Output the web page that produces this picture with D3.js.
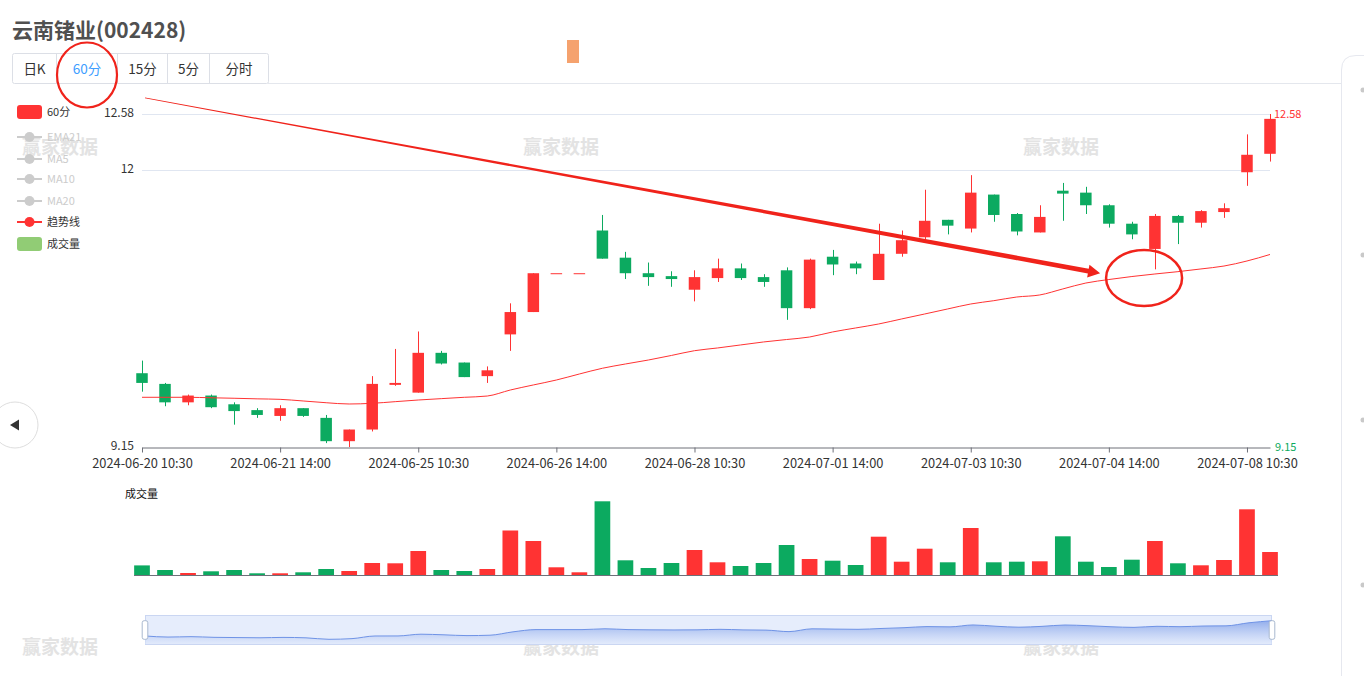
<!DOCTYPE html>
<html><head><meta charset="utf-8">
<script src="https://cdn.jsdelivr.net/npm/d3@7"></script>
<style>
html,body{margin:0;padding:0;background:#fff;overflow:hidden;}
svg{display:block;font-family:"Noto Sans CJK SC","Noto Sans",sans-serif;}
</style></head><body>
<svg id="c" width="1364" height="676"></svg>
<script>
// ---------- DATA ----------
const categories = [
 "2024-06-20 10:30","2024-06-20 11:30","2024-06-20 14:00","2024-06-20 15:00",
 "2024-06-21 10:30","2024-06-21 11:30","2024-06-21 14:00","2024-06-21 15:00",
 "2024-06-24 10:30","2024-06-24 11:30","2024-06-24 14:00","2024-06-24 15:00",
 "2024-06-25 10:30","2024-06-25 11:30","2024-06-25 14:00","2024-06-25 15:00",
 "2024-06-26 10:30","2024-06-26 11:30","2024-06-26 14:00","2024-06-26 15:00",
 "2024-06-27 10:30","2024-06-27 11:30","2024-06-27 14:00","2024-06-27 15:00",
 "2024-06-28 10:30","2024-06-28 11:30","2024-06-28 14:00","2024-06-28 15:00",
 "2024-07-01 10:30","2024-07-01 11:30","2024-07-01 14:00","2024-07-01 15:00",
 "2024-07-02 10:30","2024-07-02 11:30","2024-07-02 14:00","2024-07-02 15:00",
 "2024-07-03 10:30","2024-07-03 11:30","2024-07-03 14:00","2024-07-03 15:00",
 "2024-07-04 10:30","2024-07-04 11:30","2024-07-04 14:00","2024-07-04 15:00",
 "2024-07-05 10:30","2024-07-05 11:30","2024-07-05 14:00","2024-07-05 15:00",
 "2024-07-08 10:30","2024-07-08 11:30"
];
const openP  = [9.91,9.80,9.61,9.68,9.59,9.53,9.47,9.55,9.45,9.21,9.33,9.79,9.71,10.12,10.02,9.88,10.31,10.54,10.94,10.94,
                11.38,11.10,10.94,10.91,10.77,10.89,10.99,10.90,10.97,10.58,11.11,11.04,10.87,11.14,11.31,11.49,11.40,11.75,11.55,11.36,
                11.79,11.77,11.64,11.45,11.19,11.53,11.46,11.57,11.98,12.17];
const highP  = [10.04,9.81,9.69,9.69,9.61,9.55,9.58,9.55,9.48,9.33,9.88,10.16,10.34,10.14,10.02,9.98,10.63,10.94,10.94,10.94,
                11.54,11.16,11.05,10.96,10.97,11.09,11.04,10.93,11.00,11.09,11.18,11.06,11.45,11.38,11.80,11.49,11.95,11.75,11.56,11.64,
                11.87,11.83,11.65,11.47,11.55,11.54,11.59,11.66,12.37,12.58];
const lowP   = [9.72,9.57,9.58,9.55,9.38,9.45,9.42,9.46,9.19,9.15,9.31,9.78,9.71,10.00,9.87,9.81,10.14,10.54,10.94,10.94,
                11.09,10.88,10.81,10.80,10.65,10.85,10.87,10.80,10.46,10.57,10.92,10.93,10.87,11.11,11.29,11.34,11.36,11.47,11.33,11.36,
                11.48,11.55,11.41,11.29,10.98,11.24,11.41,11.51,11.84,12.09];
const closeP = [9.81,9.61,9.68,9.56,9.52,9.48,9.55,9.47,9.21,9.33,9.80,9.81,10.12,10.01,9.87,9.94,10.54,10.94,10.94,10.94,
                11.09,10.94,10.90,10.88,10.90,10.99,10.89,10.85,10.58,11.08,11.03,10.99,11.14,11.28,11.48,11.43,11.77,11.54,11.37,11.52,
                11.76,11.64,11.45,11.34,11.53,11.46,11.58,11.61,12.16,12.53];
const volume = [9600,5000,2000,3700,5000,1700,1700,2700,6000,4000,12000,11700,24000,5000,4000,6000,44500,34000,7700,2700,
                73700,14700,7000,12000,25000,12700,9000,12000,30000,16000,14300,10000,38300,13300,26300,12700,47000,12700,13300,13700,
                38700,13300,8000,15300,34000,11700,9700,15000,65700,23000];
const trendLine = [9.662,9.662,9.662,9.657,9.652,9.646,9.641,9.624,9.606,9.593,9.600,9.617,9.634,9.648,9.662,9.675,9.737,9.789,9.840,9.902,
                   9.961,10.005,10.046,10.093,10.142,10.170,10.201,10.232,10.257,10.283,10.335,10.376,10.417,10.469,10.520,10.572,10.623,10.657,10.695,10.716,
                   10.778,10.839,10.875,10.906,10.932,10.956,10.984,11.014,11.066,11.133];
const priceTicks = [9.15, 12, 12.58];
const xTickEvery = 6;
const tabs = ["日K","60分","15分","5分","分时"];
const legendItems = ["60分","EMA21","MA5","MA10","MA20","趋势线","成交量"];
const title = "云南锗业(002428)";
const watermark = "赢家数据";

// ---------- SETUP ----------
const RED = "#ff3333", GREEN = "#0caa60", ANNO = "#f0231b";
const svg = d3.select("#c");
const x = d3.scalePoint().domain(categories).range([142, 1270]);
const xi = d3.scaleLinear().domain([0, categories.length - 1]).range([142, 1270]);
const y = d3.scaleLinear().domain([d3.min(lowP), d3.max(highP)]).range([447, 114]);
const yv = d3.scaleLinear().domain([0, d3.max(volume)]).range([575, 501.3]);
const up = i => closeP[i] >= openP[i];

// watermarks
const wm = svg.append("g").attr("fill", "#e3e3e3").attr("font-size", 19).attr("font-weight", "bold").attr("text-anchor", "middle");
[[60,147],[561,147],[1061,147],[60,647],[561,647],[1061,647]].forEach(([a,b]) =>
  wm.append("text").attr("x", a).attr("y", b).attr("dy", "0.35em").text(watermark));

// title
svg.append("text").attr("x", 12).attr("y", 38).attr("font-size", 21).attr("font-weight", "bold")
  .attr("fill", "#505050").text(title);

// orange marker
svg.append("rect").attr("x", 567).attr("y", 40).attr("width", 12).attr("height", 23).attr("fill", "#f5a26e");

// tabs
const tabEdges = [12.5, 56.5, 117.5, 167.5, 209.5, 268.5];
svg.append("line").attr("x1", 268).attr("x2", 1341).attr("y1", 83.5).attr("y2", 83.5).attr("stroke", "#e4e7ed");
const tg = svg.append("g");
tg.append("rect").attr("x", 12.5).attr("y", 53.5).attr("width", 256).attr("height", 30)
  .attr("fill", "#fff").attr("stroke", "#dcdfe6").attr("rx", 2);
tabEdges.slice(1, -1).forEach(e => tg.append("line").attr("x1", e).attr("x2", e).attr("y1", 53.5).attr("y2", 83.5).attr("stroke", "#dcdfe6"));
tabs.forEach((t, i) => {
  tg.append("text").attr("x", (tabEdges[i] + tabEdges[i+1]) / 2).attr("y", 69).attr("dy", "0.35em")
    .attr("text-anchor", "middle").attr("font-size", 13.5).attr("fill", i === 1 ? "#409eff" : "#333").text(t);
});

// right panel edge
svg.append("path").attr("d", "M1341.5,676 V70 Q1341.5,55.5 1356,55.5 H1364").attr("fill", "none").attr("stroke", "#e6e8ef");
[90,255,420,585].forEach(v => svg.append("circle").attr("cx", 1363).attr("cy", v).attr("r", 2.5).attr("fill", "#c9c9c9"));

// left nav button
svg.append("circle").attr("cx", 15).attr("cy", 425).attr("r", 23).attr("fill", "#fff").attr("stroke", "#dedede");
svg.append("path").attr("d", "M10,425 L19,419.5 L19,430.5 Z").attr("fill", "#333");

// legend
const lg = svg.append("g").attr("font-size", 11);
const legendY = [112, 137, 159, 179, 201, 222, 244];
legendItems.forEach((name, i) => {
  const cy = legendY[i];
  const disabled = i >= 1 && i <= 4;
  const col = disabled ? "#cccccc" : (i === 6 ? "#91cc75" : RED);
  if (i === 0 || i === 6) {
    lg.append("rect").attr("x", 17).attr("y", cy - 7).attr("width", 25).attr("height", 14).attr("rx", 3).attr("fill", col);
  } else {
    lg.append("line").attr("x1", 17).attr("x2", 42).attr("y1", cy).attr("y2", cy).attr("stroke", col).attr("stroke-width", 2);
    lg.append("circle").attr("cx", 29.5).attr("cy", cy).attr("r", 5).attr("fill", col);
  }
  lg.append("text").attr("x", 47).attr("y", cy).attr("dy", "0.35em").attr("fill", disabled ? "#cccccc" : "#333").text(name);
});

// grid lines
const gg = svg.append("g");
priceTicks.filter(v => v !== y.domain()[0]).forEach(v =>
  gg.append("line").attr("x1", 142).attr("x2", 1270).attr("y1", Math.round(y(v)) + 0.5).attr("y2", Math.round(y(v)) + 0.5).attr("stroke", "#e0e6f1"));

// y labels left
priceTicks.forEach(v =>
  svg.append("text").attr("x", 134).attr("y", y(v) - 1).attr("dy", "0.32em").attr("text-anchor", "end")
    .attr("font-size", 12).attr("fill", "#333").text(v));
// max/min labels right
svg.append("text").attr("x", 1274).attr("y", y(d3.max(highP))).attr("dy", "0.35em").attr("font-size", 11).attr("fill", RED).text(d3.max(highP));
svg.append("text").attr("x", 1275).attr("y", y(d3.min(lowP))).attr("dy", "0.35em").attr("font-size", 11).attr("fill", GREEN).text(d3.min(lowP));

// x axis
const xTickCats = categories.filter((c, i) => i % xTickEvery === 0);
const xAxis = d3.axisBottom(x).tickValues(xTickCats).tickSize(5).tickSizeOuter(0);
const xa = svg.append("g").attr("transform", "translate(0,447.5)").call(xAxis);
xa.select(".domain").attr("stroke", "#6e7079");
xa.selectAll(".tick line").attr("stroke", "#6e7079");
xa.selectAll(".tick text").attr("font-size", 12.8).attr("fill", "#333").attr("font-family", "Noto Sans CJK SC, sans-serif").attr("dy", "0.95em");

// candles
const cg = svg.append("g");
categories.forEach((c, i) => {
  const col = up(i) ? RED : GREEN;
  const cx = Math.round(x(c)) + 0.5;
  cg.append("line").attr("x1", cx).attr("x2", cx).attr("y1", y(highP[i])).attr("y2", y(lowP[i])).attr("stroke", col).attr("stroke-width", 1);
  const top = y(Math.max(openP[i], closeP[i])), bot = y(Math.min(openP[i], closeP[i]));
  cg.append("rect").attr("x", x(c) - 5.75).attr("width", 11.5).attr("y", top).attr("height", Math.max(1, bot - top)).attr("fill", col);
});

// trend line
svg.append("path").datum(trendLine)
  .attr("d", d3.line().x((d, i) => x(categories[i])).y(d => y(d)).curve(d3.curveMonotoneX))
  .attr("fill", "none").attr("stroke", RED).attr("stroke-width", 1);

// volume
svg.append("text").attr("x", 125).attr("y", 494).attr("dy", "0.35em").attr("font-size", 11).attr("fill", "#111").text(legendItems[6]);
const vg = svg.append("g");
volume.forEach((v, i) => {
  vg.append("rect").attr("x", x(categories[i]) - 7.85).attr("width", 15.7).attr("y", yv(v)).attr("height", yv(0) - yv(v))
    .attr("fill", up(i) ? RED : GREEN);
});
svg.append("line").attr("x1", 134).attr("x2", 1278).attr("y1", 575.5).attr("y2", 575.5).attr("stroke", "#6e7079");

// data zoom slider
const dz = svg.append("g");
const xs = d3.scaleLinear().domain([0, categories.length - 1]).range([145, 1272]);
const ys = d3.scaleLinear().domain(d3.extent(closeP)).range([639.3, 620.7]);
const defs = svg.append("defs");
const grad = defs.append("linearGradient").attr("id", "dzg").attr("x1", 0).attr("y1", 0).attr("x2", 0).attr("y2", 1);
grad.append("stop").attr("offset", "0%").attr("stop-color", "#7e9ee8").attr("stop-opacity", 0.8);
grad.append("stop").attr("offset", "100%").attr("stop-color", "#dfe8fb").attr("stop-opacity", 0.6);
dz.append("rect").attr("x", 145.5).attr("y", 615.5).attr("width", 1126).attr("height", 29).attr("fill", "#e6edfc").attr("stroke", "#cad6f2");
dz.append("path").datum(closeP)
  .attr("d", d3.area().x((d, i) => xs(i)).y0(644).y1(d => ys(d)).curve(d3.curveMonotoneX))
  .attr("fill", "url(#dzg)");
dz.append("path").datum(closeP)
  .attr("d", d3.line().x((d, i) => xs(i)).y(d => ys(d)).curve(d3.curveMonotoneX))
  .attr("fill", "none").attr("stroke", "#6f93e6").attr("stroke-width", 1);
[145, 1272].forEach(hx => dz.append("rect").attr("x", hx - 2.8).attr("y", 620.7).attr("width", 5.6).attr("height", 18.6)
  .attr("rx", 2).attr("fill", "#fff").attr("stroke", "#a8b8cf"));

// ---------- ANNOTATIONS ----------
const arrowFrom = [0.13, 12.745], arrowTo = [41.62, 10.94];
const ax0 = xi(arrowFrom[0]), ay0 = y(arrowFrom[1]), ax1 = xi(arrowTo[0]), ay1 = y(arrowTo[1]);
const L = Math.hypot(ax1 - ax0, ay1 - ay0), ux = (ax1 - ax0) / L, uy = (ay1 - ay0) / L, nx = -uy, ny = ux;
const headLen = 12, headW = 6.5;
const bx = ax1 - ux * headLen, by = ay1 - uy * headLen;
const w0 = 0.4, w1 = 2.4;
const poly = [[ax0 + nx*w0, ay0 + ny*w0], [bx + nx*w1, by + ny*w1], [bx + nx*headW, by + ny*headW], [ax1, ay1],
              [bx - nx*headW, by - ny*headW], [bx - nx*w1, by - ny*w1], [ax0 - nx*w0, ay0 - ny*w0]];
svg.append("path").attr("d", "M" + poly.map(p => p.join(",")).join("L") + "Z").attr("fill", ANNO);

// circle around candle low / trend line
svg.append("ellipse").attr("cx", xi(43.53)).attr("cy", y(10.891)).attr("rx", 38).attr("ry", 28)
  .attr("fill", "none").attr("stroke", ANNO).attr("stroke-width", 2.5);
// circle around the 60分 tab
svg.append("ellipse").attr("cx", 87).attr("cy", 75).attr("rx", 30).attr("ry", 32.5)
  .attr("fill", "none").attr("stroke", ANNO).attr("stroke-width", 2.2);
</script>
</body></html>
